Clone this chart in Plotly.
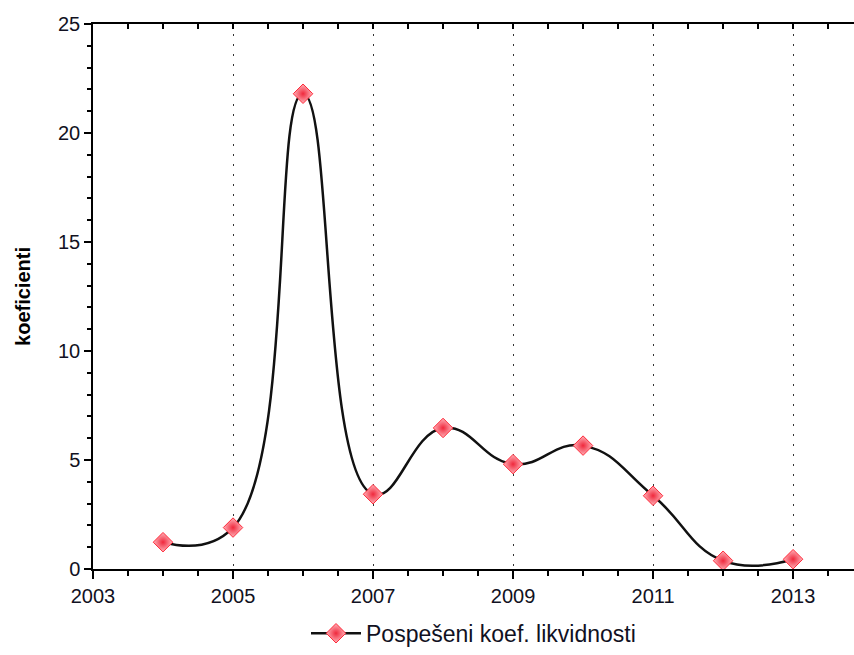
import plotly.graph_objects as go

years = [2004, 2005, 2006, 2007, 2008, 2009, 2010, 2011, 2012, 2013]
values = [1.23, 1.90, 21.80, 3.43, 6.47, 4.81, 5.66, 3.36, 0.38, 0.45]
series_name = "Pospešeni koef. likvidnosti"
y_title = "koeficienti"
x_ticks = [2003, 2005, 2007, 2009, 2011, 2013]

font_family = "Liberation Sans, Arial, sans-serif"
fig = go.Figure()
fig.add_trace(go.Scatter(
    x=years, y=values, name=series_name, mode="lines+markers",
    line=dict(color="#111111", width=2.5, shape="spline", smoothing=1.3),
    marker=dict(symbol="diamond", size=15, color="#ffb3ba",
                gradient=dict(type="radial", color="#f0283c"),
                line=dict(color="#ff2a3a", width=1)),
))
# top axis for mirrored inside ticks
fig.add_trace(go.Scatter(x=[2003], y=[0], xaxis="x2", yaxis="y",
                         mode="markers", marker=dict(opacity=0),
                         showlegend=False, hoverinfo="skip"))

xr = [2003, 2013.87]
fig.update_layout(
    width=854, height=655,
    margin=dict(l=93, r=0, t=24, b=82),
    paper_bgcolor="white", plot_bgcolor="white",
    font=dict(family=font_family, size=20, color="#111122"),
    showlegend=True,
    legend=dict(orientation="h", x=0.5, xanchor="center", y=-0.118, yanchor="middle",
                font=dict(size=23, color="#111122"), itemwidth=50),
    xaxis=dict(range=xr, tickvals=x_ticks, ticktext=[str(t) for t in x_ticks],
               showline=True, linecolor="black", linewidth=1.5,
               ticks="outside", ticklen=8, tickwidth=1.5, tickcolor="black",
               minor=dict(dtick=0.5, tick0=2003, ticks="outside", ticklen=5,
                          tickwidth=1.5, tickcolor="black", showgrid=False),
               showgrid=True, gridcolor="#333333", gridwidth=1, griddash="2px,8px",
               zeroline=False, tickfont=dict(size=20)),
    xaxis2=dict(range=xr, overlaying="x", side="top", showline=True,
                linecolor="black", linewidth=1.5,
                tickvals=x_ticks, ticks="inside", ticklen=5, tickwidth=1.5,
                tickcolor="black", showticklabels=False, showgrid=False,
                minor=dict(dtick=0.5, tick0=2003, ticks="inside", ticklen=5,
                           tickwidth=1.5, tickcolor="black"),
                zeroline=False),
    yaxis=dict(range=[0, 25], dtick=5, showline=True, linecolor="black", linewidth=1.5,
               ticks="outside", ticklen=7, tickwidth=1.5, tickcolor="black",
               minor=dict(dtick=1, ticks="outside", ticklen=4, tickwidth=1.5,
                          tickcolor="black"),
               showgrid=False, zeroline=False, tickfont=dict(size=20),
               title=dict(text="<b>" + y_title + "</b>", font=dict(size=20, color="black"),
                          standoff=22)),
)
fig.write_html("out.html", config={"displayModeBar": False},
               post_script="document.body.style.margin='0';")
